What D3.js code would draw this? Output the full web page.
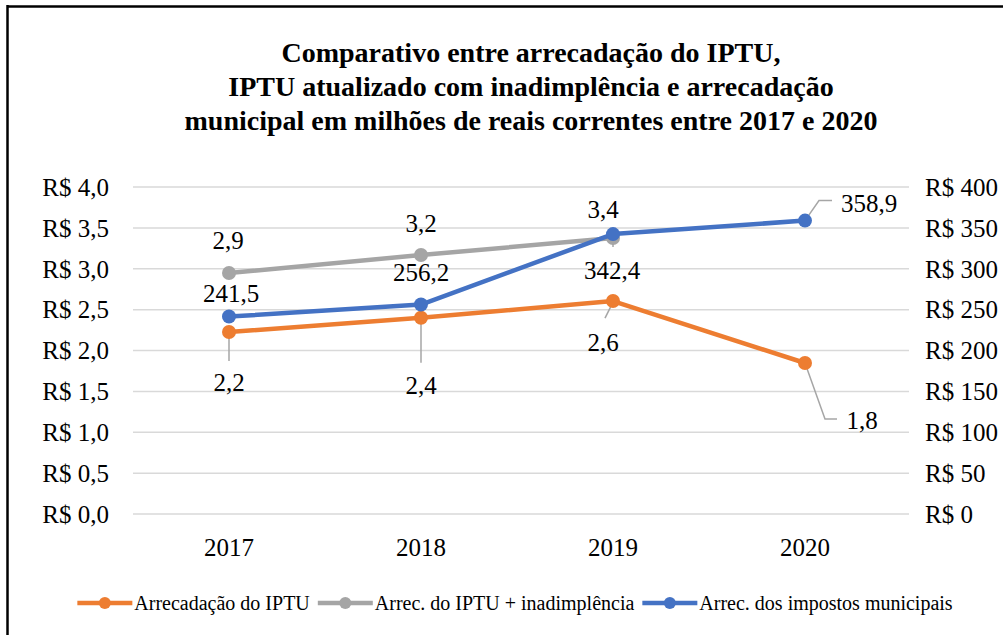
<!DOCTYPE html>
<html>
<head>
<meta charset="utf-8">
<script src="https://cdn.jsdelivr.net/npm/d3@7"></script>
<style>
  html, body { margin: 0; padding: 0; background: #fff; }
  svg { display: block; }
  text { font-family: "Liberation Serif", "Times New Roman", serif; }
</style>
</head>
<body>
<svg id="chart" width="1003" height="635"></svg>
<script>
// ---- data ----
const years = ["2017", "2018", "2019", "2020"];
const iptu = [2.226, 2.40, 2.605, 1.847];            // left axis
const iptuInad = [2.948, 3.168, 3.376, null];        // left axis
const impostos = [241.5, 256.2, 342.4, 358.9];        // right axis
const leftTicks = [0, 0.5, 1, 1.5, 2, 2.5, 3, 3.5, 4];
const rightTicks = [0, 50, 100, 150, 200, 250, 300, 350, 400];
const titleLines = [
  "Comparativo entre arrecadação do IPTU,",
  "IPTU atualizado com inadimplência e arrecadação",
  "municipal em milhões de reais correntes entre 2017 e 2020"
];
const seriesNames = ["Arrecadação do IPTU", "Arrec. do IPTU + inadimplência", "Arrec. dos impostos municipais"];

// ---- layout ----
const FONT = "Liberation Serif";
const colors = ["#ED7D31", "#A5A5A5", "#4472C4"];
const svg = d3.select("#chart");
const plot = { left: 133, right: 901, top: 187, bottom: 514 };

const x = d3.scaleBand().domain(years).range([plot.left, plot.right]);
const cx = d => x(d) + x.bandwidth() / 2;
const yL = d3.scaleLinear().domain([0, 4]).range([plot.bottom, plot.top]);
const yR = d3.scaleLinear().domain([0, 400]).range([plot.bottom, plot.top]);
const fmt1 = v => d3.format(".1f")(v).replace(".", ",");

// frame
svg.append("line").attr("x1", 7).attr("x2", 1003).attr("y1", 6.5).attr("y2", 6.5)
  .attr("stroke", "#000").attr("stroke-width", 2.5);
svg.append("line").attr("x1", 7.5).attr("x2", 7.5).attr("y1", 5).attr("y2", 635)
  .attr("stroke", "#000").attr("stroke-width", 2.5);

// title
svg.append("text").attr("text-anchor", "middle").attr("font-weight", "bold")
  .attr("font-family", FONT).attr("font-size", 28).attr("fill", "#000")
  .selectAll("tspan").data(titleLines).join("tspan")
  .attr("x", 531).attr("y", (d, i) => 62 + i * 34).text(d => d);

// gridlines
svg.append("g").selectAll("line").data(leftTicks).join("line")
  .attr("x1", plot.left).attr("x2", plot.right + 8)
  .attr("y1", d => yL(d)).attr("y2", d => yL(d))
  .attr("stroke", "#D9D9D9").attr("stroke-width", 1.5);

// left axis
const gL = svg.append("g").attr("transform", `translate(${plot.left - 24},0)`)
  .call(d3.axisLeft(yL).tickValues(leftTicks).tickSize(0).tickPadding(0)
    .tickFormat(d => "R$ " + fmt1(d)));
gL.select(".domain").remove();
gL.selectAll("text").attr("font-size", 25).attr("fill", "#000")
  .attr("font-family", FONT).attr("dy", "0.33em");

// right axis
const gR = svg.append("g").attr("transform", `translate(925,0)`)
  .call(d3.axisRight(yR).tickValues(rightTicks).tickSize(0).tickPadding(0)
    .tickFormat(d => "R$ " + d));
gR.select(".domain").remove();
gR.selectAll("text").attr("font-size", 25).attr("fill", "#000")
  .attr("font-family", FONT).attr("dy", "0.33em");

// x axis
const gX = svg.append("g").attr("transform", `translate(0,${plot.bottom + 24})`)
  .call(d3.axisBottom(x).tickSize(0).tickPadding(0));
gX.select(".domain").remove();
gX.selectAll("text").attr("font-size", 25).attr("fill", "#000")
  .attr("font-family", FONT).attr("dy", "0.71em");

// series definitions
const series = [
  { vals: iptu, y: yL, color: colors[0] },
  { vals: iptuInad, y: yL, color: colors[1] },
  { vals: impostos, y: yR, color: colors[2] }
];

// label placements (offsets from point) and leader lines
const labelOffsets = [
  [[0, 50], [0, 67], [-10, 41], [57, 57]],
  [[-1, -33], [0, -32], [-10, -29]],
  [[2, -23], [0, -32], [-1, 36], [64, -17]]
];
const leaders = [
  [[[0, 3], [0, 29]], [[0, 3], [0, 45]], [[0, 1], [-8, 17]], [[0, 0], [20, 56], [32, 56]]],
  [null, null, null],
  [null, null, [[0, 6], [0, 13]], [[0, 0], [14, -20], [27, -20]]]
];

// leader lines (under markers)
series.forEach((s, si) => {
  s.vals.forEach((v, i) => {
    const L = leaders[si][i];
    if (v == null || !L) return;
    const px = cx(years[i]), py = s.y(v);
    svg.append("path")
      .attr("d", d3.line()(L.map(p => [px + p[0], py + p[1]])))
      .attr("fill", "none").attr("stroke", "#A6A6A6").attr("stroke-width", 1.5);
  });
});

// lines & markers
series.forEach(s => {
  const pts = years.map((yr, i) => ({ yr, v: s.vals[i] })).filter(d => d.v != null);
  svg.append("path").datum(pts)
    .attr("d", d3.line().x(d => cx(d.yr)).y(d => s.y(d.v)))
    .attr("fill", "none").attr("stroke", s.color).attr("stroke-width", 4.5)
    .attr("stroke-linejoin", "round").attr("stroke-linecap", "round");
  svg.append("g").selectAll("circle").data(pts).join("circle")
    .attr("cx", d => cx(d.yr)).attr("cy", d => s.y(d.v)).attr("r", 7)
    .attr("fill", s.color);
});

// data labels
series.forEach((s, si) => {
  s.vals.forEach((v, i) => {
    if (v == null) return;
    const o = labelOffsets[si][i];
    svg.append("text")
      .attr("x", cx(years[i]) + o[0]).attr("y", s.y(v) + o[1])
      .attr("dy", "0.35em").attr("text-anchor", "middle")
      .attr("font-family", FONT).attr("font-size", 25).attr("fill", "#000")
      .text(fmt1(v));
  });
});

// legend
const legend = svg.append("g");
let lx = 0;
seriesNames.forEach((name, i) => {
  const g = legend.append("g").attr("transform", `translate(${lx},0)`);
  g.append("line").attr("x1", 0).attr("x2", 55).attr("y1", 0).attr("y2", 0)
    .attr("stroke", colors[i]).attr("stroke-width", 4.5);
  g.append("circle").attr("cx", 27.5).attr("cy", 0).attr("r", 6).attr("fill", colors[i]);
  const t = g.append("text").attr("x", 57).attr("y", 0).attr("dy", "0.33em")
    .attr("font-family", FONT).attr("font-size", 20).attr("fill", "#000").text(name);
  lx += 57 + t.node().getComputedTextLength() + 8;
});
const legW = lx - 8;
legend.attr("transform", `translate(${515 - legW / 2},603)`);
</script>
</body>
</html>
